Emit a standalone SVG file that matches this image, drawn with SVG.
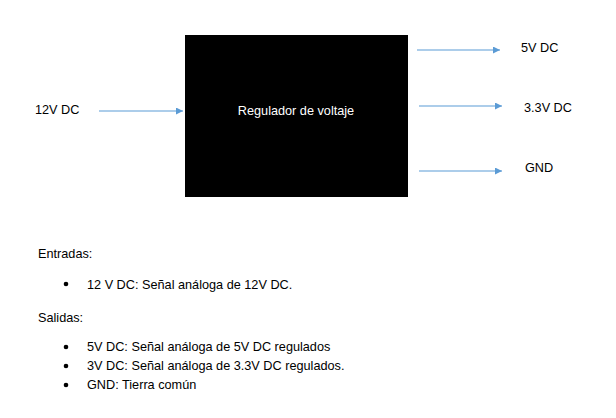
<svg xmlns="http://www.w3.org/2000/svg" width="616" height="418" viewBox="0 0 616 418">
<style>
text{font-family:"Liberation Sans",Arial,sans-serif;font-size:12.7px;fill:#000}
.w{fill:#fff}
.c{stroke:#5B9BD5;stroke-width:1.2;fill:none;marker-end:url(#ah)}
</style>
<defs>
<marker id="ah" viewBox="0 0 10 10" refX="10" refY="5" markerWidth="7" markerHeight="7" markerUnits="userSpaceOnUse" orient="auto">
<path d="M0,0 L10,5 L0,10 z" fill="#5B9BD5"/>
</marker>
</defs>
<rect width="616" height="418" fill="#fff"/>
<g id="regulador">
<rect x="185" y="35" width="223" height="162" fill="#000"/>
<text class="w" x="296" y="115" text-anchor="middle">Regulador de voltaje</text>
</g>
<g id="in12"><text x="35" y="114">12V DC</text></g>
<g id="out5"><text x="521" y="52">5V DC</text></g>
<g id="out33"><text x="524" y="112">3.3V DC</text></g>
<g id="gnd"><text x="525" y="172">GND</text></g>
<g id="connectors">
<line class="c" x1="99" y1="111" x2="183" y2="111"/>
<line class="c" x1="417" y1="50" x2="500" y2="50"/>
<line class="c" x1="419" y1="106" x2="502" y2="106"/>
<line class="c" x1="419" y1="171" x2="502" y2="171"/>
</g>
<g id="notes">
<text x="38" y="258">Entradas:</text>
<circle cx="66" cy="284" r="2.3"/>
<text x="87" y="289">12 V DC: Señal análoga de 12V DC.</text>
<text x="38" y="322">Salidas:</text>
<circle cx="66" cy="347" r="2.3"/>
<text x="87" y="351">5V DC: Señal análoga de 5V DC regulados</text>
<circle cx="66" cy="366" r="2.3"/>
<text x="87" y="370">3V DC: Señal análoga de 3.3V DC regulados.</text>
<circle cx="66" cy="385" r="2.3"/>
<text x="87" y="389">GND: Tierra común</text>
</g>
</svg>
